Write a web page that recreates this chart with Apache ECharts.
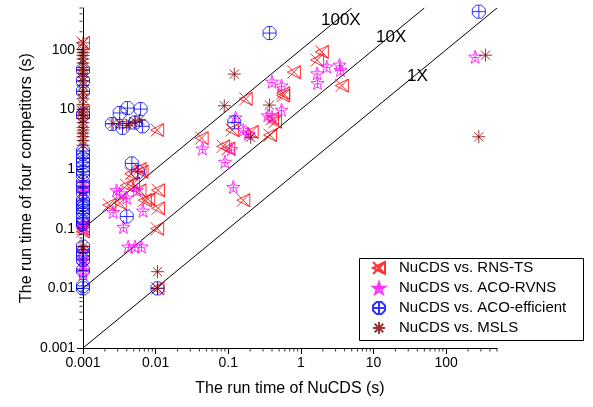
<!DOCTYPE html>
<html lang="en">
<head>
    <meta charset="UTF-8">
    <title>run time</title>
    <script src="https://cdn.jsdelivr.net/npm/echarts@6/dist/echarts.min.js"></script>
    <style>
        html,body{margin:0;padding:0;background:#fff;}
        #main{width:593px;height:407px;}
    </style>
</head>
<body>
<div id="main"></div>
<script>
    // NuCDS run time (x) vs competitor run time (y), seconds
    var rnsTs = [
        [0.001,130],[0.001,9],[0.001,0.11],[0.001,0.1],[0.001,0.09],
        [0.0105,4.5],[0.004,0.53],[0.0049,0.57],[0.006,0.44],[0.0108,0.44],[0.0108,0.22],
        [0.0105,0.1],[0.0079,0.31],[0.0023,0.25],[0.0032,0.27],[0.0046,0.83],[0.006,1.0],
        [0.0071,0.3],[0.0064,0.9],[0.0106,0.01],[0.161,0.3],[0.043,3.3],[0.085,2.4],
        [0.1,2.2],[0.113,4.5],[0.21,4.2],[0.174,15],[0.376,3.7],[0.57,18.7],[0.44,6.2],
        [0.4,7],[0.8,42],[1.94,92],[1.67,67],[3.66,25],[0.57,17]
    ];
    var acoRvns = [
        [0.001,0.6],[0.001,0.5],[0.001,0.45],[0.001,0.4],[0.001,0.12],[0.001,0.1],
        [0.001,0.04],[0.001,0.03],[0.001,0.025],[0.001,0.02],[0.001,0.018],
        [0.0032,0.39],[0.004,0.33],[0.0026,0.19],[0.0067,0.2],[0.0036,0.107],[0.0042,0.05],
        [0.0052,0.05],[0.0064,0.05],[0.0055,0.44],[0.0029,0.44],[0.117,0.5],[0.126,7.3],
        [0.161,4.5],[0.189,3.9],[0.044,2.2],[0.11,2.15],[0.09,1.32],[0.4,29],[0.54,25],
        [0.4,7.5],[0.54,9.8],[0.35,7.9],[2.27,52],[3.4,56],[3.5,46],[1.67,40],[1.69,27.5],
        [250,76]
    ];
    var acoEfficient = [
        [0.001,46],[0.001,30],[0.001,20],[0.001,8],[0.001,2],[0.001,1.8],[0.001,1.5],
        [0.001,1.3],[0.001,1.1],[0.001,0.9],[0.001,0.8],[0.001,0.6],[0.001,0.5],[0.001,0.4],
        [0.001,0.3],[0.001,0.28],[0.001,0.25],[0.001,0.22],[0.001,0.2],[0.001,0.18],
        [0.001,0.15],[0.001,0.13],[0.001,0.12],[0.001,0.05],[0.001,0.04],[0.001,0.035],
        [0.001,0.03],[0.001,0.02],[0.001,0.011],[0.001,0.01],
        [0.0041,10.5],[0.0062,10.1],[0.0032,8.7],[0.0025,5.7],[0.0035,4.9],[0.0066,5.2],
        [0.0052,6],[0.0047,1.24],[0.0057,0.9],[0.004,0.16],[0.0106,0.01],[0.121,6.05],
        [0.37,190],[281,434]
    ];
    var msls = [
        [0.001,130],[0.001,100],[0.001,90],[0.001,80],[0.001,70],[0.001,60],[0.001,50],
        [0.001,45],[0.001,40],[0.001,35],[0.001,30],[0.001,25],[0.001,20],[0.001,18],
        [0.001,15],[0.001,12],[0.001,10],[0.001,9],[0.001,8],[0.001,7],[0.001,6],[0.001,5],
        [0.001,4.5],[0.001,4],[0.001,3.5],[0.001,3],[0.001,2.5],[0.001,0.05],[0.001,0.045],
        [0.0032,5.8],[0.004,5.4],[0.0052,6.2],[0.006,6.6],[0.0026,5.8],[0.0044,5.8],
        [0.0106,0.019],[0.0106,0.01],[0.121,39],[0.088,11.5],[0.203,3.4],[0.368,11.8],
        [347,81],[281,3.47]
    ];
    // speed-up reference lines y = k*x
    var line1x = [[0.001,0.001],[500,500]];
    var line10x = [[0.001,0.01],[50,500]];
    var line100x = [[0.001,0.1],[5,500]];
    // tick values
    var majorValues = [0.001, 0.01, 0.1, 1, 10, 100];
    var minorValues = [];
    majorValues.forEach(function (d) {
        for (var m = 2; m <= 9; m++) {
            if (d * m <= 500) minorValues.push(+(d * m).toPrecision(3));
        }
    });

    var SYM_RNS = 'path://M0,0L20,20M20,0L0,20M20,0L0,10L20,20Z';
    var SYM_STAR = 'path://M10,0L12.35,6.76L19.51,6.91L13.8,11.24L15.88,18.09L10,14L4.12,18.09L6.2,11.24L0.49,6.91L7.65,6.76ZM10,4L10,16M6,10L14,10';
    var SYM_HEX = 'path://M6.17,0.76L13.83,0.76L19.24,6.17L19.24,13.83L13.83,19.24L6.17,19.24L0.76,13.83L0.76,6.17ZM10,0.76L10,19.24M0.76,10L19.24,10';
    var SYM_AST = 'path://M10,0L10,20M0,10L20,10M2.9,2.9L17.1,17.1M17.1,2.9L2.9,17.1';

    var FONT = 'Liberation Sans, Arial, sans-serif';

    function pointSeries(name, data, symbol, color) {
        return {
            name: name,
            type: 'scatter',
            data: data,
            symbol: symbol,
            symbolSize: 13,
            itemStyle: {color: 'rgba(0,0,0,0)', borderColor: color, borderWidth: 1},
            z: 5
        };
    }
    function refLine(data) {
        return {
            type: 'line', data: data, symbol: 'none', silent: true,
            lineStyle: {color: '#000', width: 1}, z: 3
        };
    }
    // short minor tick marks sitting on an axis, placed by the axis scale
    function minorTicks(horizontal) {
        return {
            type: 'scatter', silent: true, clip: false, z: 8,
            data: minorValues.map(function (v) { return horizontal ? [v, 0.001] : [0.001, v]; }),
            symbol: 'rect',
            symbolSize: horizontal ? [1, 3] : [3, 1],
            symbolOffset: horizontal ? [0, 2] : [-2, 0],
            itemStyle: {color: '#000'}
        };
    }
    function decadeLabel(v) {
        var l = Math.log(v) / Math.LN10;
        if (Math.abs(l - Math.round(l)) > 1e-6) return '';
        return String(+v.toPrecision(3));
    }

    var axisCommon = {
        type: 'log', logBase: 10, min: 0.001, max: 500,
        nameLocation: 'middle',
        nameMoveOverlap: false,
        nameTextStyle: {fontFamily: FONT, fontSize: 16, color: '#000'},
        axisLine: {lineStyle: {color: '#000', width: 1}},
        axisTick: {length: 6, lineStyle: {color: '#000'}, customValues: majorValues},
        axisLabel: {fontFamily: FONT, fontSize: 14, color: '#000', margin: 8, formatter: decadeLabel},
        splitLine: {show: false}
    };

    var chart = echarts.init(document.getElementById('main'));
    chart.setOption({
        animation: false,
        backgroundColor: '#fff',
        grid: {left: 83, right: 96, top: 8, bottom: 59},
        xAxis: Object.assign({}, axisCommon, {name: 'The run time of NuCDS (s)', nameGap: 33}),
        yAxis: Object.assign({}, axisCommon, {name: 'The run time of four competitors (s)', nameGap: 48}),
        legend: {
            orient: 'vertical', left: 372, top: 260, padding: 0, itemGap: 4,
            itemWidth: 12, itemHeight: 12,
            textStyle: {fontFamily: FONT, fontSize: 15, color: '#000', lineHeight: 16, padding: [0, 0, 0, 9]},
            data: ['NuCDS vs. RNS-TS', 'NuCDS vs. ACO-RVNS', 'NuCDS vs. ACO-efficient', 'NuCDS vs. MSLS']
        },
        graphic: [
            {type: 'rect', left: 357, top: 256, shape: {width: 224, height: 82},
                style: {fill: 'none', stroke: '#000', lineWidth: 1}, z: 1},
            {type: 'text', left: 321, top: 12, style: {text: '100X', font: '17px ' + FONT, fill: '#000'}},
            {type: 'text', left: 376, top: 29, style: {text: '10X', font: '17px ' + FONT, fill: '#000'}},
            {type: 'text', left: 407, top: 68, style: {text: '1X', font: '17px ' + FONT, fill: '#000'}}
        ],
        series: [
            refLine(line1x), refLine(line10x), refLine(line100x),
            pointSeries('NuCDS vs. RNS-TS', rnsTs, SYM_RNS, '#ff0000'),
            pointSeries('NuCDS vs. ACO-RVNS', acoRvns, SYM_STAR, '#ff00ff'),
            pointSeries('NuCDS vs. ACO-efficient', acoEfficient, SYM_HEX, '#0000ff'),
            pointSeries('NuCDS vs. MSLS', msls, SYM_AST, '#800000'),
            minorTicks(true), minorTicks(false)
        ]
    });
</script>
</body>
</html>
